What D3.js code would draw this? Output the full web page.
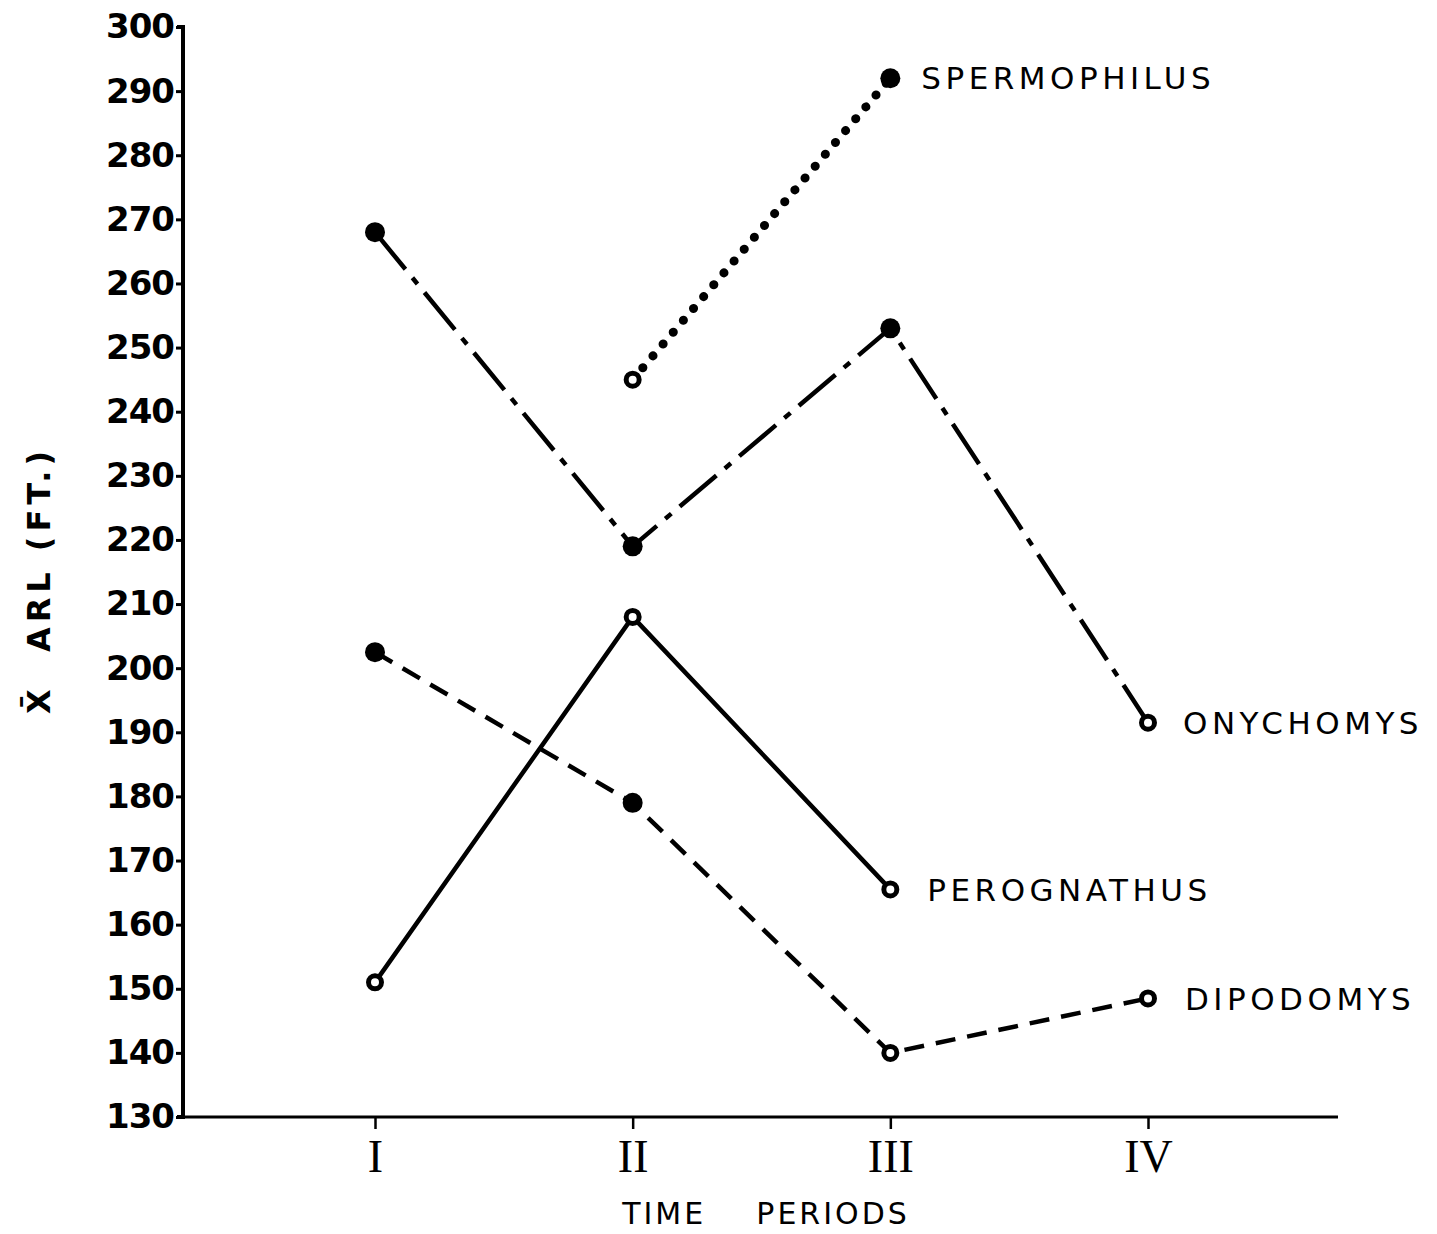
<!DOCTYPE html>
<html>
<head>
<meta charset="utf-8">
<script src="https://cdn.jsdelivr.net/npm/d3@7"></script>
<style>
body { margin: 0; background: #fff; }
svg { display: block; }
</style>
</head>
<body>
<svg id="chart" width="1437" height="1234"></svg>
<script>

// time periods on the x axis
var periods = ["I", "II", "III", "IV"];
var yTicks = d3.range(130, 301, 10);

// mean ARL per species, null where the species was not recorded
var spermophilus = [null, 245, 292, null];
var onychomys    = [268, 219, 253, 191.5];
var perognathus  = [151, 208, 165.5, null];
var dipodomys    = [202.5, 179, 140, 148.5];

// marker kind per point: f = filled dot, o = open ring
var spermophilusMarks = [null, "o", "f", null];
var onychomysMarks    = ["f", "f", "f", "o"];
var perognathusMarks  = ["o", "o", "o", null];
var dipodomysMarks    = ["f", "f", "o", "o"];

var svg = d3.select("#chart");

var x = d3.scalePoint().domain(periods).range([375, 1148]);
var y = d3.scaleLinear().domain([130, 300]).range([1117, 27]);

// y axis
var yAxis = d3.axisLeft(y).tickValues(yTicks).tickSize(7).tickPadding(2).tickFormat(d3.format("d"));
var gy = svg.append("g").attr("transform", "translate(183,0)").call(yAxis);
gy.select(".domain").attr("d", "M-6," + y(300) + "H0V" + y(130) + "H-6")
    .style("stroke", "#000").style("stroke-width", 4).style("fill", "none");
gy.selectAll(".tick line").style("stroke", "#000").style("stroke-width", 3);
gy.selectAll(".tick text")
    .style("font-family", "'DejaVu Sans', sans-serif")
    .style("font-weight", "bold")
    .style("font-size", "34px")
    .style("letter-spacing", "-1px")
    .style("fill", "#000");

// x axis
var xAxis = d3.axisBottom(x).tickSize(12).tickPadding(10);
var gx = svg.append("g").attr("transform", "translate(0,1117)").call(xAxis);
gx.select(".domain").attr("d", "M183,0H1338")
    .style("stroke", "#000").style("stroke-width", 3).style("fill", "none");
gx.selectAll(".tick line").style("stroke", "#000").style("stroke-width", 2.5);
gx.selectAll(".tick text")
    .style("font-family", "'Liberation Serif', serif")
    .style("font-size", "46px")
    .style("fill", "#000");

// axis titles
svg.append("text")
    .attr("x", 766).attr("y", 1224)
    .attr("text-anchor", "middle")
    .style("font-family", "'DejaVu Sans', sans-serif")
    .style("font-size", "30px")
    .style("letter-spacing", "3px")
    .style("white-space", "pre")
    .text("TIME    PERIODS");

svg.append("text")
    .attr("transform", "translate(50,580) rotate(-90)")
    .attr("text-anchor", "middle")
    .style("font-family", "'DejaVu Sans', sans-serif")
    .style("font-weight", "bold")
    .style("font-size", "32px")
    .style("letter-spacing", "5px")
    .style("white-space", "pre")
    .text("X\u0304  ARL (FT.)");

var line = d3.line()
    .defined(function(d) { return d != null; })
    .x(function(d, i) { return x(periods[i]); })
    .y(function(d) { return y(d); });

var series = [
    { name: "SPERMOPHILUS", vals: spermophilus, marks: spermophilusMarks, dash: "0.1 15.5", width: 9, cap: "round", label: 2, dx: 31 },
    { name: "ONYCHOMYS",    vals: onychomys,    marks: onychomysMarks,    dash: "48 11 8 11", width: 4.5, cap: "butt", label: 3, dx: 35 },
    { name: "PEROGNATHUS",  vals: perognathus,  marks: perognathusMarks,  dash: null, width: 4.5, cap: "butt", label: 2, dx: 37 },
    { name: "DIPODOMYS",    vals: dipodomys,    marks: dipodomysMarks,    dash: "20 12", width: 4.5, cap: "butt", label: 3, dx: 37 }
];

series.forEach(function(s) {
    svg.append("path")
        .attr("d", line(s.vals))
        .style("fill", "none")
        .style("stroke", "#000")
        .style("stroke-width", s.width)
        .style("stroke-linecap", s.cap)
        .style("stroke-dasharray", s.dash);

    s.vals.forEach(function(v, i) {
        if (v == null) return;
        var cx = x(periods[i]), cy = y(v);
        if (s.marks[i] == "f") {
            svg.append("circle").attr("cx", cx).attr("cy", cy).attr("r", 10)
                .style("fill", "#000");
        } else {
            svg.append("circle").attr("cx", cx).attr("cy", cy).attr("r", 6.5)
                .style("fill", "#fff").style("stroke", "#000").style("stroke-width", 5);
        }
    });

    var lv = s.vals[s.label];
    svg.append("text")
        .attr("x", x(periods[s.label]) + s.dx)
        .attr("y", y(lv))
        .attr("dy", "0.36em")
        .style("font-family", "'DejaVu Sans', sans-serif")
        .style("font-size", "31px")
        .style("letter-spacing", "4.5px")
        .text(s.name);
});

</script>
</body>
</html>
